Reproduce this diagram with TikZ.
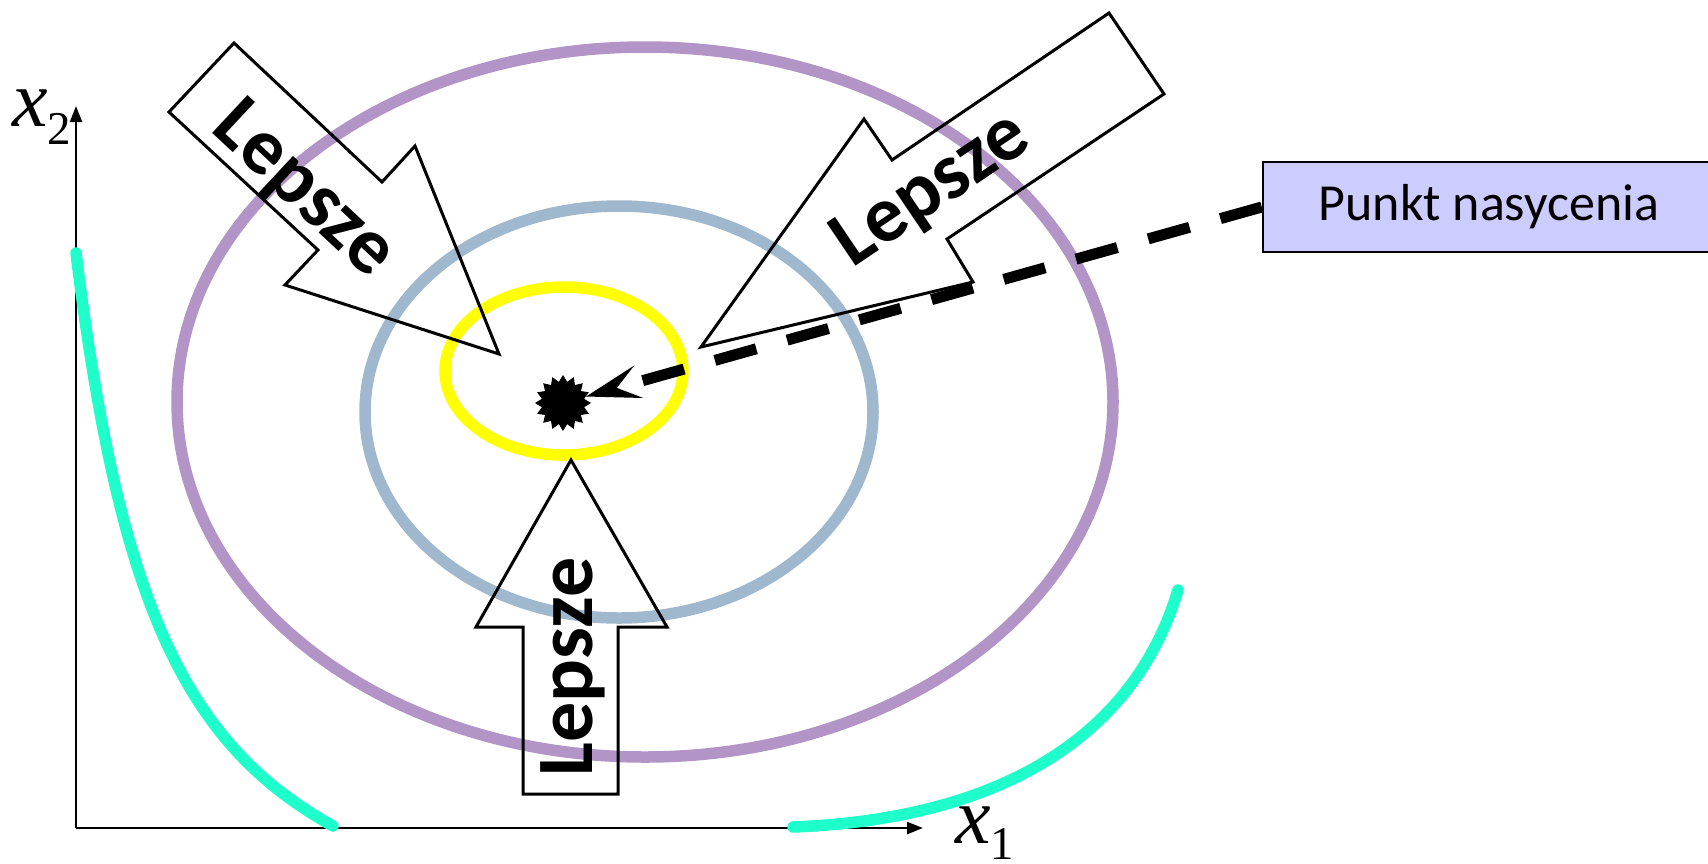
\documentclass[tikz,border=0pt]{standalone}
\usepackage{fontspec}
\setmainfont{Carlito}
\newfontfamily\timesf{Liberation Serif}
\usetikzlibrary{arrows.meta,shapes.geometric}
\definecolor{purp}{HTML}{B294C7}
\definecolor{bluegray}{HTML}{9FB8CE}
\definecolor{yel}{HTML}{FFFF00}
\definecolor{aqua}{HTML}{1FFFCC}
\definecolor{boxfill}{HTML}{CCCCFF}
\begin{document}
\begin{tikzpicture}[x=1pt,y=-1pt,
  ell/.style={line width=11.5pt},
  blockarrow/.style={draw=black,line width=3pt,line join=miter},
  lep/.style={font=\fontsize{80}{80}\selectfont\bfseries,inner sep=0pt},
  axisline/.style={line width=2.4pt,-{Triangle[length=16pt,width=12pt]}},
  aqualine/.style={draw=aqua,line width=11.5pt,line cap=round},
  boxst/.style={draw=black,line width=2.4pt,fill=boxfill,minimum width=452pt,minimum height=90pt,inner sep=0pt,font=\fontsize{52}{52}\selectfont},
  dashline/.style={line width=11pt,dash pattern=on 43pt off 32pt,-{Stealth[length=54pt,width=33pt,inset=22pt]}},
  xlab/.style={font=\timesf\fontsize{80}{80}\selectfont\itshape,inner sep=0pt,anchor=base west}
]
\useasboundingbox (0,0) rectangle (1708,863);
\clip (0,0) rectangle (1708,863);
\fill[white] (0,0) rectangle (1708,863);
% axes
\coordinate (O) at (76,828);
\coordinate (ytop) at (76,106);
\coordinate (xend) at (923,828);
\draw[axisline] (O) -- (ytop);
\draw[axisline] (O) -- (xend);
\node[xlab] (x2) at (12,126) {x\raisebox{-18pt}{\fontsize{47}{47}\selectfont\upshape 2}};
\node[xlab] (x1) at (955,843) {x\raisebox{-16pt}{\fontsize{47}{47}\selectfont\upshape 1}};
% indifference curves
\draw[aqualine] (76,253) .. controls (119,600) and (183,743) .. (333,826);
\draw[aqualine] (793,827) .. controls (1000,819) and (1134,737) .. (1178,590);
% ellipses
\draw[ell,purp] (645,402) ellipse [x radius=468pt, y radius=355pt];
\draw[ell,bluegray] (619,412) ellipse [x radius=254pt, y radius=206pt];
\draw[ell,yel] (564,371) ellipse [x radius=119pt, y radius=84pt];
% block arrows
\draw[blockarrow] (234,43) -- (382,182) -- (415,146) -- (499,354) -- (285,285) -- (318,250) -- (169,112) -- cycle;
\draw[blockarrow] (1109,13) -- (1164,94) -- (947,239) -- (973,282) -- (701,347) -- (864,119) -- (892,160) -- cycle;
\draw[blockarrow] (571,460) -- (667,627) -- (618,627) -- (618,794) -- (523,794) -- (523,627) -- (476,627) -- cycle;
\node[lep,rotate=-43] (l1) at (303,191) {Lepsze};
\node[lep,rotate=34] (l2) at (932,191) {Lepsze};
\node[lep,rotate=90] (l3) at (573,667) {Lepsze};
% saturation point
\node[star,star points=16,star point ratio=1.3,fill=black,minimum size=56pt,inner sep=0pt] (pt) at (563,403) {};
\node[boxst] (box) at (1489,207) {Punkt nasycenia};
\draw[dashline] (box.west) -- (pt);
\end{tikzpicture}
\end{document}
